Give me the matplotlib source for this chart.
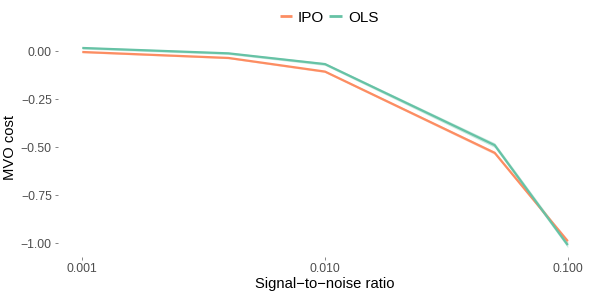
import matplotlib
matplotlib.use("Agg")
import matplotlib.pyplot as plt
import numpy as np

snr = [0.001, 0.004, 0.01, 0.05, 0.1]
ipo_cost = [-0.005, -0.036, -0.107, -0.530, -0.990]
ols_cost = [0.016, -0.012, -0.068, -0.490, -1.010]
ipo_band = [0.004, 0.004, 0.005, 0.008, 0.010]
ols_band = [0.006, 0.006, 0.007, 0.012, 0.014]
series_names = ["IPO", "OLS"]
colors = ["#FC8D62", "#66C2A5"]
xticks = [0.001, 0.01, 0.1]
xticklabels = ["0.001", "0.010", "0.100"]
yticks = [0.0, -0.25, -0.5, -0.75, -1.0]
yticklabels = ["0.00", "\u22120.25", "\u22120.50", "\u22120.75", "\u22121.00"]

plt.rcParams['font.family'] = ['Liberation Sans', 'DejaVu Sans']

fig = plt.figure(figsize=(5.98, 2.99), dpi=100)
ax = fig.add_axes([0.097, 0.140, 0.893, 0.733])

for name, y, band, c in zip(series_names, [ipo_cost, ols_cost], [ipo_band, ols_band], colors):
    y = np.array(y); b = np.array(band)
    ax.fill_between(snr, y - b, y + b, color=c, alpha=0.35, linewidth=0)
    ax.plot(snr, y, color=c, lw=1.6, label=name, solid_capstyle='butt')

ax.set_xscale('log')
ax.set_xlim(10**-3.1, 10**-0.9)
ax.set_ylim(-1.073, 0.068)
ax.set_xticks(xticks)
ax.set_xticklabels(xticklabels)
ax.minorticks_off()
ax.set_yticks(yticks)
ax.set_yticklabels(yticklabels)
for s in ax.spines.values():
    s.set_visible(False)
ax.tick_params(axis='both', length=2.5, width=0.5, color='#555555', labelcolor='#4D4D4D', labelsize=8.8, pad=2)
ax.set_xlabel("Signal\u2212to\u2212noise ratio", fontsize=10.6, color='black', labelpad=1)
ax.set_ylabel("MVO cost", fontsize=10.6, color='black', labelpad=3)

leg = fig.legend(loc='upper center', bbox_to_anchor=(0.55, 1.01), ncol=2, frameon=False,
                 fontsize=11, handlelength=0.8, handletextpad=0.4, columnspacing=0.35)
for l in leg.get_lines():
    l.set_linewidth(2)

fig.savefig("out.png", dpi=100)
